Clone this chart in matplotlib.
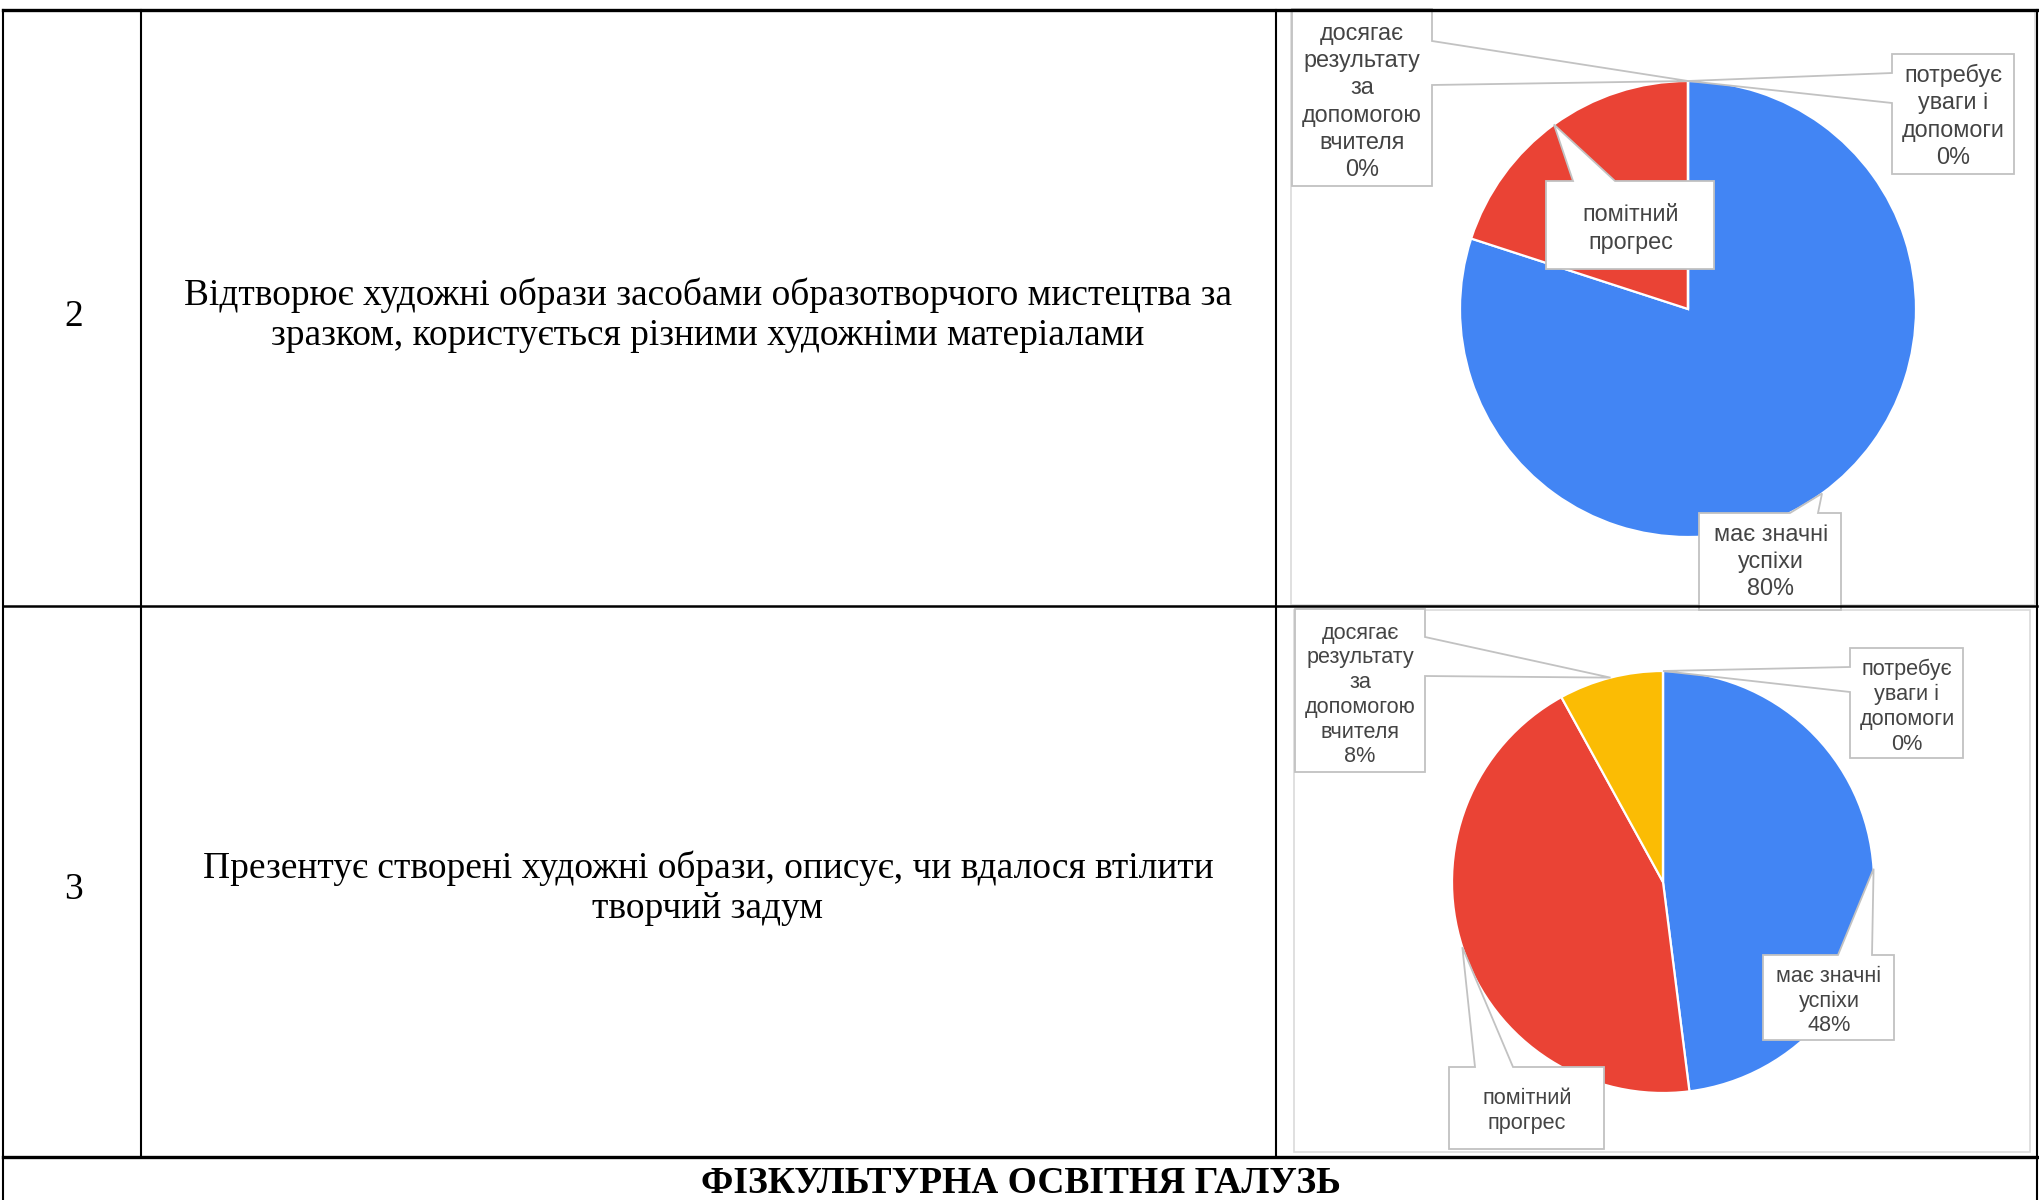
import matplotlib
matplotlib.use("Agg")
import matplotlib.pyplot as plt
from matplotlib.patches import Polygon, Rectangle
import numpy as np

W, H = 2040, 1200

# ---- table content -------------------------------------------------------
row_numbers = ["2", "3"]
row_texts = [
    ["Відтворює художні образи засобами образотворчого мистецтва за",
     "зразком, користується різними художніми матеріалами"],
    ["Презентує створені художні образи, описує, чи вдалося втілити",
     "творчий задум"],
]
section_title = "ФІЗКУЛЬТУРНА ОСВІТНЯ ГАЛУЗЬ"

# ---- pie data --------------------------------------------------------------
categories = ["має значні успіхи", "помітний прогрес",
              "досягає результату за допомогою вчителя",
              "потребує уваги і допомоги"]
label_lines = [["має значні", "успіхи"],
               ["помітний", "прогрес"],
               ["досягає", "результату", "за", "допомогою", "вчителя"],
               ["потребує", "уваги і", "допомоги"]]
shares_row2 = [80, 20, 0, 0]
shares_row3 = [48, 44, 8, 0]
show_percent = [True, False, True, True]
slice_colors = ["#4285F4", "#EA4335", "#FBBC04", "#34A853"]

# ---- layout (pixel coordinates, y downwards) -------------------------------
TEXT_FONT = "Liberation Serif"
LABEL_FONT = "Liberation Sans"

fig = plt.figure(figsize=(W / 100, H / 100), dpi=100)
fig.patch.set_facecolor("white")

pies = [
    dict(values=shares_row2, center=(1688, 309), radius=228, fs=16.8, step=27.3,
         callouts=[
             dict(box=(1699, 513, 1841, 610), side="top", base=(1790, 1818), text=(1771, 561)),
             dict(box=(1546, 181, 1714, 269), side="top", base=(1573, 1615), text=(1631, 228)),
             dict(box=(1292, 9, 1432, 186), side="right", base=(41, 85), text=(1362, 101)),
             dict(box=(1892, 54, 2014, 174), side="left", base=(73, 103), text=(1953, 116)),
         ],
         frame=(1291, 11, 2035, 605)),
    dict(values=shares_row3, center=(1663, 882), radius=211, fs=15.6, step=24.8,
         callouts=[
             dict(box=(1763, 955, 1894, 1040), side="top", base=(1838, 1872), text=(1829, 1000)),
             dict(box=(1449, 1067, 1604, 1149), side="top", base=(1475, 1513), text=(1527, 1110)),
             dict(box=(1295, 609, 1425, 772), side="right", base=(637, 676), text=(1360, 694)),
             dict(box=(1850, 648, 1963, 758), side="left", base=(667, 692), text=(1907, 706)),
         ],
         frame=(1294, 610, 2030, 1152)),
]

# pie axes (drawn below the overlay)
for p in pies:
    cx, cy = p["center"]
    r = p["radius"]
    pax = fig.add_axes([(cx - r) / W, 1 - (cy + r) / H, 2 * r / W, 2 * r / H], zorder=1)
    pax.pie(p["values"], colors=slice_colors, startangle=90, counterclock=False,
            radius=1, wedgeprops=dict(edgecolor="white", linewidth=1.6))
    pax.set_xlim(-1, 1)
    pax.set_ylim(-1, 1)
    pax.set_axis_off()

# overlay axes in pixel units
ax = fig.add_axes([0, 0, 1, 1], zorder=2)
ax.set_xlim(0, W)
ax.set_ylim(H, 0)
ax.set_axis_off()
ax.patch.set_alpha(0)


def slice_tip(values, i, center, r):
    total = float(sum(values))
    mid = (sum(values[:i]) + values[i] / 2.0) / total * 2 * np.pi
    return center[0] + r * np.sin(mid), center[1] - r * np.cos(mid)


def callout_polygon(box, side, base, tip):
    x0, y0, x1, y1 = box
    a, b = base
    if side == "top":
        pts = [(x0, y0), (a, y0), tip, (b, y0), (x1, y0), (x1, y1), (x0, y1)]
    elif side == "right":
        pts = [(x0, y0), (x1, y0), (x1, a), tip, (x1, b), (x1, y1), (x0, y1)]
    else:  # left
        pts = [(x0, y0), (x1, y0), (x1, y1), (x0, y1), (x0, b), tip, (x0, a)]
    return pts


for p in pies:
    fx0, fy0, fx1, fy1 = p["frame"]
    ax.add_patch(Rectangle((fx0, fy0), fx1 - fx0, fy1 - fy0, fill=False,
                           edgecolor="#dadada", linewidth=1.2, zorder=2))
    em = p["fs"] * 100 / 72
    for i, c in enumerate(p["callouts"]):
        tip = slice_tip(p["values"], i, p["center"], p["radius"])
        pts = callout_polygon(c["box"], c["side"], c["base"], tip)
        ax.add_patch(Polygon(pts, closed=True, facecolor="white", edgecolor="#c2c2c2",
                             linewidth=1.3, joinstyle="miter", zorder=3))
        lines = list(label_lines[i])
        if show_percent[i]:
            lines.append(f"{p['values'][i]}%")
        n = len(lines)
        tx, ty = c["text"]
        for k, line in enumerate(lines):
            yy = ty + (k - (n - 1) / 2.0) * p["step"]
            ax.text(tx, yy + 0.3 * em, line, ha="center", va="baseline",
                    fontsize=p["fs"], family=LABEL_FONT, color="#444444", zorder=4)

# ---- table grid ------------------------------------------------------------
lw_thin = 1.5
lw_thick = 2.4
y_top, y_mid, y_sec, y_bot = 10, 606, 1157, 1202
x_left, x_num, x_desc, x_right = 3, 141, 1276, 2037

ax.plot([x_left, x_right], [y_top, y_top], color="black", lw=lw_thick, zorder=6, solid_capstyle="projecting")
ax.plot([x_left, x_right], [y_mid, y_mid], color="black", lw=lw_thin + 0.3, zorder=6)
ax.plot([x_left, x_right], [y_sec, y_sec], color="black", lw=lw_thick, zorder=6)
for x in (x_left, x_right):
    ax.plot([x, x], [y_top, y_bot], color="black", lw=lw_thin, zorder=6)
for x in (x_num, x_desc):
    ax.plot([x, x], [y_top, y_sec], color="black", lw=lw_thin, zorder=6)

# ---- table text ------------------------------------------------------------
TFS = 27
tem = TFS * 100 / 72
row_centers = [314, 887]
line_step = 40
for num, lines, yc in zip(row_numbers, row_texts, row_centers):
    ax.text(74, yc + 0.33 * tem, num, ha="center", va="baseline",
            fontsize=TFS, family=TEXT_FONT, color="black", zorder=7)
    n = len(lines)
    for k, line in enumerate(lines):
        yy = yc + (k - (n - 1) / 2.0) * line_step
        ax.text(708, yy + 0.3 * tem, line, ha="center", va="baseline",
                fontsize=TFS, family=TEXT_FONT, color="black", zorder=7)

ax.text(1021, 1181 + 0.33 * tem, section_title, ha="center", va="baseline",
        fontsize=TFS, family=TEXT_FONT, fontweight="bold", color="black", zorder=7)

fig.savefig("out.png", dpi=100, facecolor="white")
